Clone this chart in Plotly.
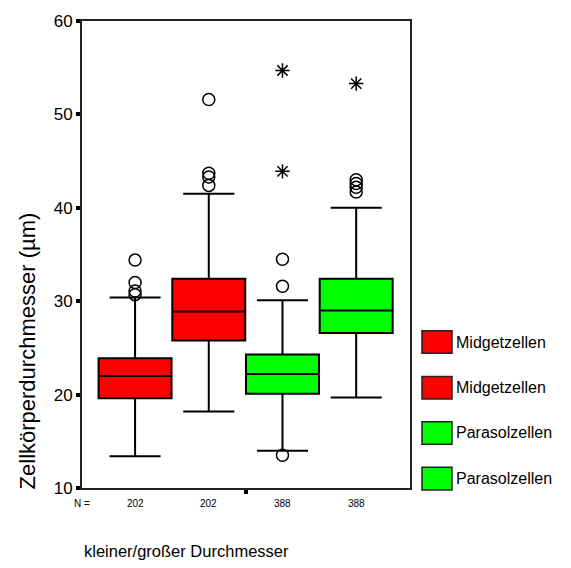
import plotly.graph_objects as go

# ---- data ----
groups = ["Midgetzellen", "Midgetzellen", "Parasolzellen", "Parasolzellen"]
positions = [1, 2, 3, 4]
n_counts = [202, 202, 388, 388]
colors = ["#FF0000", "#FF0000", "#00FF00", "#00FF00"]

q1 = [19.6, 25.8, 20.1, 26.6]
median = [22.0, 28.9, 22.2, 29.0]
q3 = [23.9, 32.4, 24.3, 32.4]
lower_whisker = [13.4, 18.2, 14.0, 19.7]
upper_whisker = [30.4, 41.5, 30.1, 40.0]

# outliers (circles) and extremes (stars) per box
outliers = [
    [34.4, 32.0, 31.1, 30.7],
    [51.6, 43.7, 43.3, 42.4],
    [34.5, 31.6, 13.5],
    [43.0, 42.6, 42.2, 41.7],
]
extremes = [
    [],
    [],
    [54.7, 43.9],
    [53.3],
]

y_ticks = [10, 20, 30, 40, 50, 60]

FONT = "Liberation Sans, Arial, sans-serif"

fig = go.Figure()

for i in range(4):
    fig.add_trace(go.Box(
        x=[positions[i]], q1=[q1[i]], median=[median[i]], q3=[q3[i]],
        lowerfence=[lower_whisker[i]], upperfence=[upper_whisker[i]],
        fillcolor=colors[i], line=dict(color="black", width=2),
        width=0.99, whiskerwidth=0.7, boxpoints=False,
        showlegend=False, hoverinfo="skip",
    ))
    if outliers[i]:
        fig.add_trace(go.Scatter(
            x=[positions[i]] * len(outliers[i]), y=outliers[i], mode="markers",
            marker=dict(symbol="circle-open", size=12, color="black",
                        line=dict(width=1.5, color="black")),
            showlegend=False, hoverinfo="skip",
        ))
    if extremes[i]:
        fig.add_trace(go.Scatter(
            x=[positions[i]] * len(extremes[i]), y=extremes[i], mode="markers",
            marker=dict(symbol="asterisk-open", size=12, color="black",
                        line=dict(width=1.5, color="black")),
            showlegend=False, hoverinfo="skip",
        ))

# layout geometry
W, H = 571, 568
L, R, T, B = 82, 161, 13, 80
ph = H - T - B
pw = W - L - R


def py(ypx):
    return (H - B - ypx) / ph


def px(xpx):
    return (xpx - L) / pw


annotations = []
# N = row
annotations.append(dict(text="N =", x=0, xref="paper", y=py(504), yref="paper",
                         xanchor="center", yanchor="middle", showarrow=False,
                         font=dict(size=10, color="black", family=FONT)))
for pos, n in zip(positions, n_counts):
    annotations.append(dict(text=str(n), x=pos, xref="x", y=py(504), yref="paper",
                            xanchor="center", yanchor="middle", showarrow=False,
                            font=dict(size=10, color="black", family=FONT)))
# x title
annotations.append(dict(text="kleiner/großer Durchmesser", x=px(82), xref="paper",
                        y=py(552), yref="paper", xanchor="left", yanchor="middle",
                        showarrow=False,
                        font=dict(size=16.5, color="black", family=FONT)))
# y title
annotations.append(dict(text="Zellkörperdurchmesser (µm)", x=px(27), xref="paper",
                        y=py(492), yref="paper", xanchor="center", yanchor="bottom",
                        textangle=-90, showarrow=False,
                        font=dict(size=22, color="black", family=FONT)))

# manual legend
shapes = []
leg_centers = [339.5, 386, 432, 478.5]
for lab, col, cy in zip(groups, colors, leg_centers):
    shapes.append(dict(type="rect", xref="paper", yref="paper",
                       x0=px(422), x1=px(452), y0=py(cy + 11.5), y1=py(cy - 11.5),
                       fillcolor=col, line=dict(color="#222222", width=1.5)))
    annotations.append(dict(text=lab, x=px(454), xref="paper", y=py(cy), yref="paper",
                            xanchor="left", yanchor="middle", showarrow=False,
                            font=dict(size=16, color="black", family=FONT)))

fig.update_layout(
    width=W, height=H,
    margin=dict(l=L, r=R, t=T, b=B, pad=0),
    paper_bgcolor="white", plot_bgcolor="white",
    showlegend=False,
    font=dict(family=FONT, color="black"),
    xaxis=dict(range=[0.28, 4.73], showgrid=False, zeroline=False,
               showline=True, linecolor="#222222", linewidth=2, mirror=True,
               tickvals=[2.5], ticktext=[""], ticks="outside", ticklen=4,
               tickwidth=4, tickcolor="black"),
    yaxis=dict(range=[10, 60], tickvals=y_ticks, ticktext=[str(t) for t in y_ticks],
               showgrid=False, zeroline=False, showline=True, linecolor="#222222",
               linewidth=2, mirror=True, ticks="outside", ticklen=4, tickwidth=4,
               tickcolor="black", tickfont=dict(size=17, color="black", family=FONT)),
    shapes=shapes,
    annotations=annotations,
)

fig.write_html("out.html", config={"displayModeBar": False},
               post_script="document.body.style.margin='0';document.body.style.padding='0';")
